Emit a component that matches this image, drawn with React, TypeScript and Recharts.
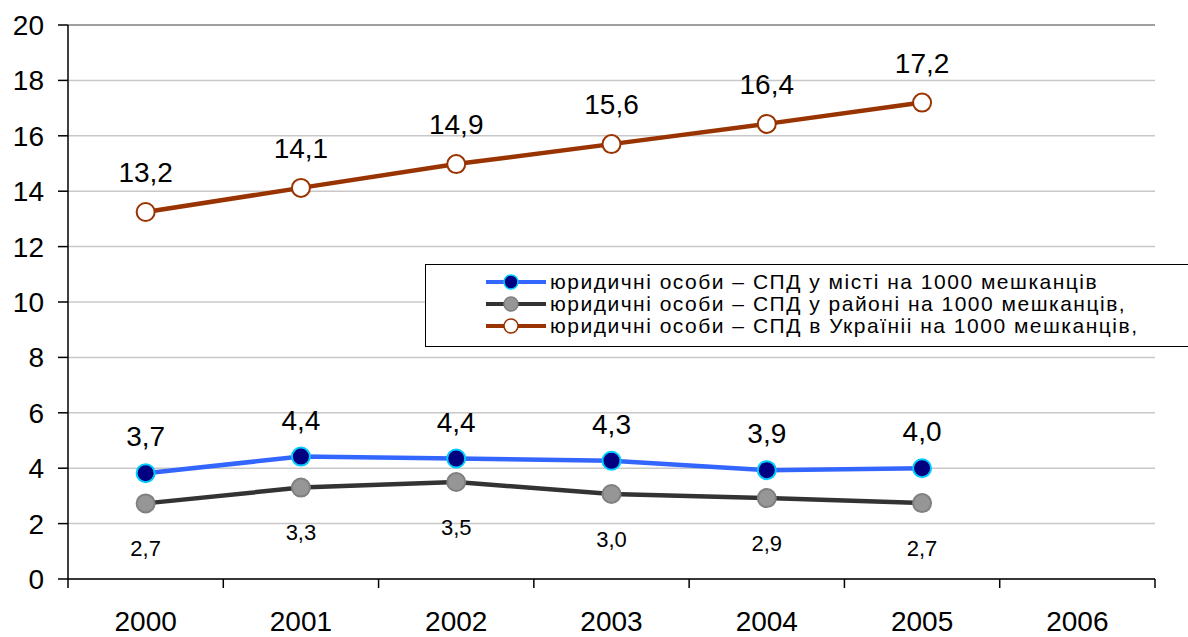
import { LineChart, Line, XAxis, YAxis, CartesianGrid, Legend, LabelList, ReferenceLine } from "recharts";

const years = ["2000", "2001", "2002", "2003", "2004", "2005", "2006"];

// значення
const cityValues = [3.82, 4.42, 4.35, 4.27, 3.93, 4.0, null];
const cityLabels = ["3,7", "4,4", "4,4", "4,3", "3,9", "4,0", null];
const districtValues = [2.73, 3.3, 3.5, 3.07, 2.92, 2.74, null];
const districtLabels = ["2,7", "3,3", "3,5", "3,0", "2,9", "2,7", null];
const ukraineValues = [13.25, 14.12, 14.98, 15.7, 16.43, 17.2, null];
const ukraineLabels = ["13,2", "14,1", "14,9", "15,6", "16,4", "17,2", null];

const yTicks = [0, 2, 4, 6, 8, 10, 12, 14, 16, 18, 20];

const seriesNames = [
  "юридичні особи – СПД у місті на 1000 мешканців",
  "юридичні особи – СПД у районі на 1000 мешканців,",
  "юридичні особи – СПД в Україніі на 1000 мешканців,",
];

const SERIES = [
  { key: "city", name: seriesNames[0], line: "#3366ff", fill: "#000080", stroke: "#00ccff" },
  { key: "district", name: seriesNames[1], line: "#333333", fill: "#969696", stroke: "#808080" },
  { key: "ukraine", name: seriesNames[2], line: "#993300", fill: "#ffffff", stroke: "#993300" },
];

const data = years.map((year, i) => ({
  year,
  city: cityValues[i],
  cityLabel: cityLabels[i],
  district: districtValues[i],
  districtLabel: districtLabels[i],
  ukraine: ukraineValues[i],
  ukraineLabel: ukraineLabels[i],
}));

const WIDTH = 1188;
const HEIGHT = 637;
const LEFT = 68;
const RIGHT = 33;
const HALF = (WIDTH - LEFT - RIGHT) / years.length / 2;
const FONT = "'Liberation Sans', Arial, sans-serif";

function YearTick(props: any) {
  const { x, y, payload, index } = props;
  return (
    <g>
      <line x1={x - HALF} x2={x - HALF} y1={y} y2={y + 9} stroke="#000" strokeWidth={1.5} />
      {index === years.length - 1 && (
        <line x1={x + HALF} x2={x + HALF} y1={y} y2={y + 9} stroke="#000" strokeWidth={1.5} />
      )}
      <text x={x} y={y + 52} textAnchor="middle" fontSize={28} fill="#000" fontFamily={FONT}>
        {payload.value}
      </text>
    </g>
  );
}

function LegendBox() {
  return (
    <div
      style={{
        border: "1.5px solid #000",
        background: "#fff",
        padding: "6px 0 9px 58px",
        fontFamily: FONT,
        fontSize: 21,
        letterSpacing: 1.5,
        lineHeight: "22px",
        color: "#000",
      }}
    >
      {SERIES.map((s) => (
        <div key={s.key} style={{ display: "flex", alignItems: "center", whiteSpace: "nowrap", height: 22 }}>
          <svg width={66} height={22}>
            <line x1={2} x2={62} y1={11} y2={11} stroke={s.line} strokeWidth={4} />
            <circle cx={27} cy={11} r={7} fill={s.fill} stroke={s.stroke} strokeWidth={1.5} />
          </svg>
          <span>{s.name}</span>
        </div>
      ))}
    </div>
  );
}

export default function App() {
  return (
    <div
      style={{
        position: "absolute",
        left: 0,
        top: 0,
        width: WIDTH,
        height: HEIGHT,
        overflow: "hidden",
        background: "#fff",
        fontFamily: FONT,
      }}
    >
      <LineChart width={WIDTH} height={HEIGHT} data={data} margin={{ top: 25, right: RIGHT, bottom: 0, left: 0 }}>
        <CartesianGrid vertical={false} stroke="#c8c8c8" strokeWidth={1.5} />
        <ReferenceLine y={20} stroke="#8c8c8c" strokeWidth={1.5} />
        <XAxis
          dataKey="year"
          padding={{ left: HALF, right: HALF }}
          axisLine={{ stroke: "#000", strokeWidth: 1.5 }}
          tickLine={false}
          tickSize={0}
          tickMargin={0}
          tick={<YearTick />}
          interval={0}
          height={58}
        />
        <YAxis
          width={LEFT}
          domain={[0, 20]}
          ticks={yTicks}
          interval={0}
          axisLine={{ stroke: "#000", strokeWidth: 1.5 }}
          tickLine={{ stroke: "#000", strokeWidth: 1.5 }}
          tickSize={10}
          tickMargin={14}
          tick={{ fill: "#000", fontSize: 28, fontFamily: FONT }}
        />
        <YAxis
          yAxisId="right"
          orientation="right"
          width={0}
          domain={[0, 20]}
          tick={false}
          tickLine={false}
          axisLine={{ stroke: "#8c8c8c", strokeWidth: 1.5 }}
        />
        <Legend
          layout="vertical"
          align="center"
          verticalAlign="middle"
          content={() => <LegendBox />}
          wrapperStyle={{ position: "absolute", left: 425, top: 264, width: 800 }}
        />
        <Line
          dataKey="city"
          name={SERIES[0].name}
          stroke={SERIES[0].line}
          strokeWidth={4.5}
          dot={{ r: 9, fill: SERIES[0].fill, stroke: SERIES[0].stroke, strokeWidth: 2 }}
          isAnimationActive={false}
        >
          <LabelList dataKey="cityLabel" position="top" offset={27} fill="#000" fontSize={28} fontFamily={FONT} />
        </Line>
        <Line
          dataKey="district"
          name={SERIES[1].name}
          stroke={SERIES[1].line}
          strokeWidth={4.5}
          dot={{ r: 9, fill: SERIES[1].fill, stroke: SERIES[1].stroke, strokeWidth: 2 }}
          isAnimationActive={false}
        >
          <LabelList dataKey="districtLabel" position="bottom" offset={37} fill="#000" fontSize={22} fontFamily={FONT} />
        </Line>
        <Line
          dataKey="ukraine"
          name={SERIES[2].name}
          stroke={SERIES[2].line}
          strokeWidth={4.5}
          dot={{ r: 9, fill: SERIES[2].fill, stroke: SERIES[2].stroke, strokeWidth: 2 }}
          isAnimationActive={false}
        >
          <LabelList dataKey="ukraineLabel" position="top" offset={30} fill="#000" fontSize={28} fontFamily={FONT} />
        </Line>
      </LineChart>
    </div>
  );
}
